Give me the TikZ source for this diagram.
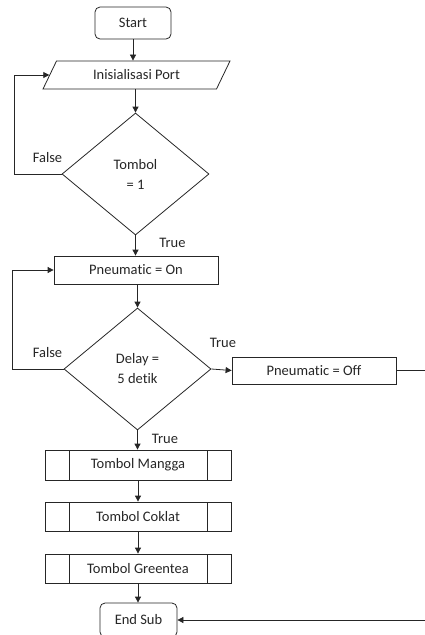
\documentclass[tikz,border=0pt]{standalone}
\usepackage{fontspec}
\setmainfont{Carlito}[Ligatures={NoCommon,NoRequired,NoContextual}]
\usetikzlibrary{shapes.geometric,arrows.meta}
\begin{document}
\begin{tikzpicture}[x=1pt,y=-1pt,
  every node/.style={font=\fontsize{14.5}{20}\selectfont, text=black!85},
  box/.style={draw=black!85, line width=0.8pt, inner sep=0pt, align=center},
  term/.style={box, rounded corners=5pt},
  proc/.style={box},
  pre/.style={box, path picture={
      \draw[line width=0.8pt, black!85]
        ([xshift=24pt]path picture bounding box.north west) -- ([xshift=24pt]path picture bounding box.south west)
        ([xshift=-24pt]path picture bounding box.north east) -- ([xshift=-24pt]path picture bounding box.south east);}},
  dec/.style={box, diamond, minimum width=147pt, minimum height=122pt},
  io/.style={box, trapezium, trapezium left angle=37, trapezium right angle=143,
             trapezium stretches body, minimum width=187pt, minimum height=28pt},
  arr/.style={-{Triangle[length=6pt,width=6pt]}, line width=0.8pt, draw=black!85},
  lbl/.style={inner sep=0pt}]
\useasboundingbox (0,0) rectangle (425,635);
\clip (0,0) rectangle (425,635);

% nodes
\node[term, minimum width=76pt, minimum height=32pt] (start) at (133,23) {Start};
\node[io] (init) at (136.5,75) {Inisialisasi Port};
\node[dec] (d1) at (135.5,174) {Tombol\\= 1};
\node[proc, minimum width=164pt, minimum height=28pt] (pon) at (136,270) {Pneumatic = On};
\node[dec] (d2) at (137.5,369) {Delay =\\5 detik};
\node[proc, minimum width=164pt, minimum height=27pt] (poff) at (314,370.5) {Pneumatic = Off};
\node[pre, minimum width=186pt, minimum height=30pt] (mangga) at (138,465) {Tombol Mangga};
\node[pre, minimum width=186pt, minimum height=29pt] (coklat) at (138,516.5) {Tombol Coklat};
\node[pre, minimum width=186pt, minimum height=29pt] (green) at (138,568.5) {Tombol Greentea};
\node[term, minimum width=77pt, minimum height=34pt] (end) at (138.5,620) {End Sub};

% labels
\node[lbl] (f1) at (47.5,158) {False};
\node[lbl] (t1) at (172.5,243) {True};
\node[lbl] (t2) at (223,343) {True};
\node[lbl] (f2) at (47.5,353) {False};
\node[lbl] (t3) at (165,439) {True};

% connectors
\draw[arr] (start.south) -- (start.south |- init.north);
\draw[arr] (d1.north |- init.south) -- (d1.north);
\draw[arr] (d1.west) -- (14,174) |- (init.west);
\draw[arr] (d1.south) -- (d1.south |- pon.north);
\draw[arr] (d2.north |- pon.south) -- (d2.north);
\draw[arr] (d2.west) -- (12,369) |- (pon.west);
\draw[arr] (d2.east) -- (poff.west);
\draw[arr] (d2.south) -- (d2.south |- mangga.north);
\draw[arr] (mangga.south) -- (coklat.north);
\draw[arr] (coklat.south) -- (green.north);
\draw[arr] (green.south) -- (green.south |- end.north);
\draw[arr] (poff.east) -- ++(44,0) |- (end.east);
\end{tikzpicture}
\end{document}
